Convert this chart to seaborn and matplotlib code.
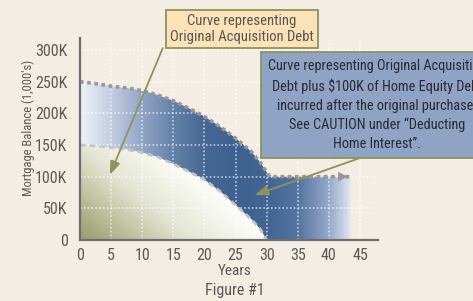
import numpy as np
import pandas as pd
import seaborn as sns
import matplotlib
matplotlib.use("Agg")
import matplotlib.pyplot as plt
from matplotlib import font_manager as fm
from matplotlib.colors import LinearSegmentedColormap

# ---- data ----
lower_years = [0, 2.5, 5, 7.5, 10, 12.5, 15, 17.5, 20, 22.5, 25, 27.5, 29, 30]
lower_balance = [150, 148.5, 146, 143, 138, 131, 120, 108, 95, 77, 55, 33, 17, 0]
upper_years = [0, 2.5, 5, 7.5, 10, 12.5, 15, 17.5, 20, 22.5, 25, 27.5, 29, 30.5, 43.5]
upper_balance = [250, 247, 243, 240, 236, 229, 220, 208, 195, 179, 161, 140, 122, 100, 100]
x_ticks = [0, 5, 10, 15, 20, 25, 30, 35, 40, 45]
y_ticks = [0, 50, 100, 150, 200, 250, 300]
y_tick_labels = ["0", "50K", "100K", "150K", "200K", "250K", "300K"]

BG = "#f3ede3"
sns.set_style("white")

# pick a condensed face if one is installed, otherwise an Arial-metric face
names = {f.name for f in fm.fontManager.ttflist}
condensed = [n for n in ["Liberation Sans Narrow", "DejaVu Sans Condensed",
                         "Roboto Condensed", "Open Sans Condensed"] if n in names]
if condensed:
    FONT = condensed[0]
    S = dict(tick=11.5, ylab=9, years=11, fig=11.5, box1=10.5, box2=10.3)
else:
    FONT = "Liberation Sans" if "Liberation Sans" in names else "DejaVu Sans"
    S = dict(tick=10, ylab=7.6, years=9.2, fig=9.6, box1=8.9, box2=8.8)
plt.rcParams["font.family"] = [FONT, "DejaVu Sans"]

W, H = 473, 301
fig = plt.figure(figsize=(W / 100, H / 100), dpi=100, facecolor=BG)
ax = fig.add_axes([80 / W, 1 - 240 / H, (378 - 80) / W, (240 - 38) / H])
ax.set_facecolor(BG)
XMAX, YMAX = 47.9, 319
ax.set_xlim(0, XMAX)
ax.set_ylim(0, YMAX)

# ---- upper (blue) region: between lower and upper curves ----
poly_x = list(upper_years) + [upper_years[-1]] + list(lower_years[::-1])
poly_y = list(upper_balance) + [0] + list(lower_balance[::-1])
upper_patch = ax.fill(poly_x, poly_y, facecolor="none", edgecolor="none")[0]

stops_x = [0, 5, 10, 15, 20, 25, 30, 35, 40, 43.7]
stops_c = [(240, 241, 248), (195, 205, 225), (145, 165, 198), (100, 128, 168),
           (70, 103, 148), (62, 98, 145), (66, 101, 147), (85, 117, 160),
           (150, 170, 203), (232, 236, 246)]
gx = np.linspace(0, XMAX, 500)
cols = np.array(stops_c) / 255.0
rgb = np.stack([np.interp(gx, stops_x, cols[:, k]) for k in range(3)], axis=-1)
img_u = np.repeat(rgb[None, :, :], 2, axis=0)
im_u = ax.imshow(img_u, extent=[0, XMAX, 0, YMAX], aspect="auto", origin="lower",
                 zorder=1, interpolation="bilinear")
im_u.set_clip_path(upper_patch)

# ---- lower (olive) region ----
lower_patch = ax.fill_between(lower_years, 0, lower_balance, facecolor="none",
                              edgecolor="none")
nx, ny = 400, 300
XX, YY = np.meshgrid(np.linspace(0, XMAX, nx), np.linspace(0, YMAX, ny))
t = np.clip(0.75 * XX / 30 + 0.45 * YY / 150, 0, 1)
cmap_l = LinearSegmentedColormap.from_list(
    "olive", [(0, (152/255, 155/255, 105/255)), (0.45, (228/255, 230/255, 212/255)),
              (0.72, (250/255, 250/255, 245/255)), (1, (1, 1, 1))])
im_l = ax.imshow(cmap_l(t), extent=[0, XMAX, 0, YMAX], aspect="auto", origin="lower",
                 zorder=1.2, interpolation="bilinear")
im_l.set_clip_path(lower_patch.get_paths()[0], transform=ax.transData)

# ---- boundary lines ----
sns.lineplot(x=lower_years, y=lower_balance, color="#c4c4c4", lw=2,
             linestyle=(0, (2, 1.5)), ax=ax, zorder=3, sort=False)
sns.lineplot(x=upper_years, y=upper_balance, color="#979797", lw=2.6,
             linestyle=(0, (1, 1)), ax=ax, zorder=3, sort=False)
ax.annotate("", xy=(upper_years[-1], upper_balance[-1]),
            xytext=(upper_years[-1] - 1.5, upper_balance[-1]),
            arrowprops=dict(arrowstyle="-|>,head_length=0.7,head_width=0.35",
                            color="#979797", lw=0), zorder=4)

# ---- grid / axes styling ----
ax.set_xticks(x_ticks)
ax.set_yticks(y_ticks)
ax.set_yticklabels(y_tick_labels)
ax.set_axisbelow(False)
ax.grid(True, color="white", alpha=0.75, linestyle=(0, (1, 1.5)), lw=1.1)
for s in ["top", "right"]:
    ax.spines[s].set_visible(False)
for s in ["left", "bottom"]:
    ax.spines[s].set_color("#6e6e6e")
    ax.spines[s].set_linewidth(1.6)
    ax.spines[s].set_zorder(5)
ax.tick_params(axis="both", length=0, labelsize=S["tick"], colors="#5a5a5a")
ax.tick_params(axis="y", pad=9)
ax.tick_params(axis="x", pad=6)
ax.set_xlabel("")
ax.set_ylabel("")

fig.text(235 / W, 1 - 271 / H, "Years", ha="center", va="center",
         fontsize=S["years"], color="#5a5a5a")
fig.text(235 / W, 1 - 291 / H, "Figure #1", ha="center", va="center",
         fontsize=S["fig"], color="#5a5a5a")
fig.text(28 / W, 1 - 128 / H, "Mortgage Balance (1,000's)", rotation=90,
         ha="center", va="center", fontsize=S["ylab"], color="#5a5a5a")

# ---- callouts ----
olive = "#8e925c"
ax.annotate("", xy=(4.8, 103), xytext=(13.3, 303),
            arrowprops=dict(arrowstyle="-|>,head_length=0.8,head_width=0.3",
                            color=olive, lw=1.3, shrinkA=0, shrinkB=0),
            zorder=6, annotation_clip=False)
ax.annotate("", xy=(28.1, 71), xytext=(46.3, 134),
            arrowprops=dict(arrowstyle="-|>,head_length=0.8,head_width=0.3",
                            color=olive, lw=1.3, shrinkA=0, shrinkB=0),
            zorder=6, annotation_clip=False)

fig.text(242 / W, 1 - 29 / H, "Curve representing\nOriginal Acquisition Debt",
         ha="center", va="center", fontsize=S["box1"], color="#555555",
         linespacing=1.2,
         bbox=dict(boxstyle="square,pad=0.3", facecolor="#fde2b8",
                   edgecolor=olive, lw=1.3))
fig.text(377 / W, 1 - 105 / H,
         "Curve representing Original Acquisition\n"
         "Debt plus $100K of Home Equity Debt\n"
         "incurred after the original purchase.\n"
         "See CAUTION under \u201cDeducting\n"
         "Home Interest\u201d.",
         ha="center", va="center", fontsize=S["box2"], color="#2a2a33",
         linespacing=1.42,
         bbox=dict(boxstyle="square,pad=0.5", facecolor="#8fa3c4",
                   edgecolor=olive, lw=1.3))

fig.savefig("out.png", dpi=100, facecolor=BG)
